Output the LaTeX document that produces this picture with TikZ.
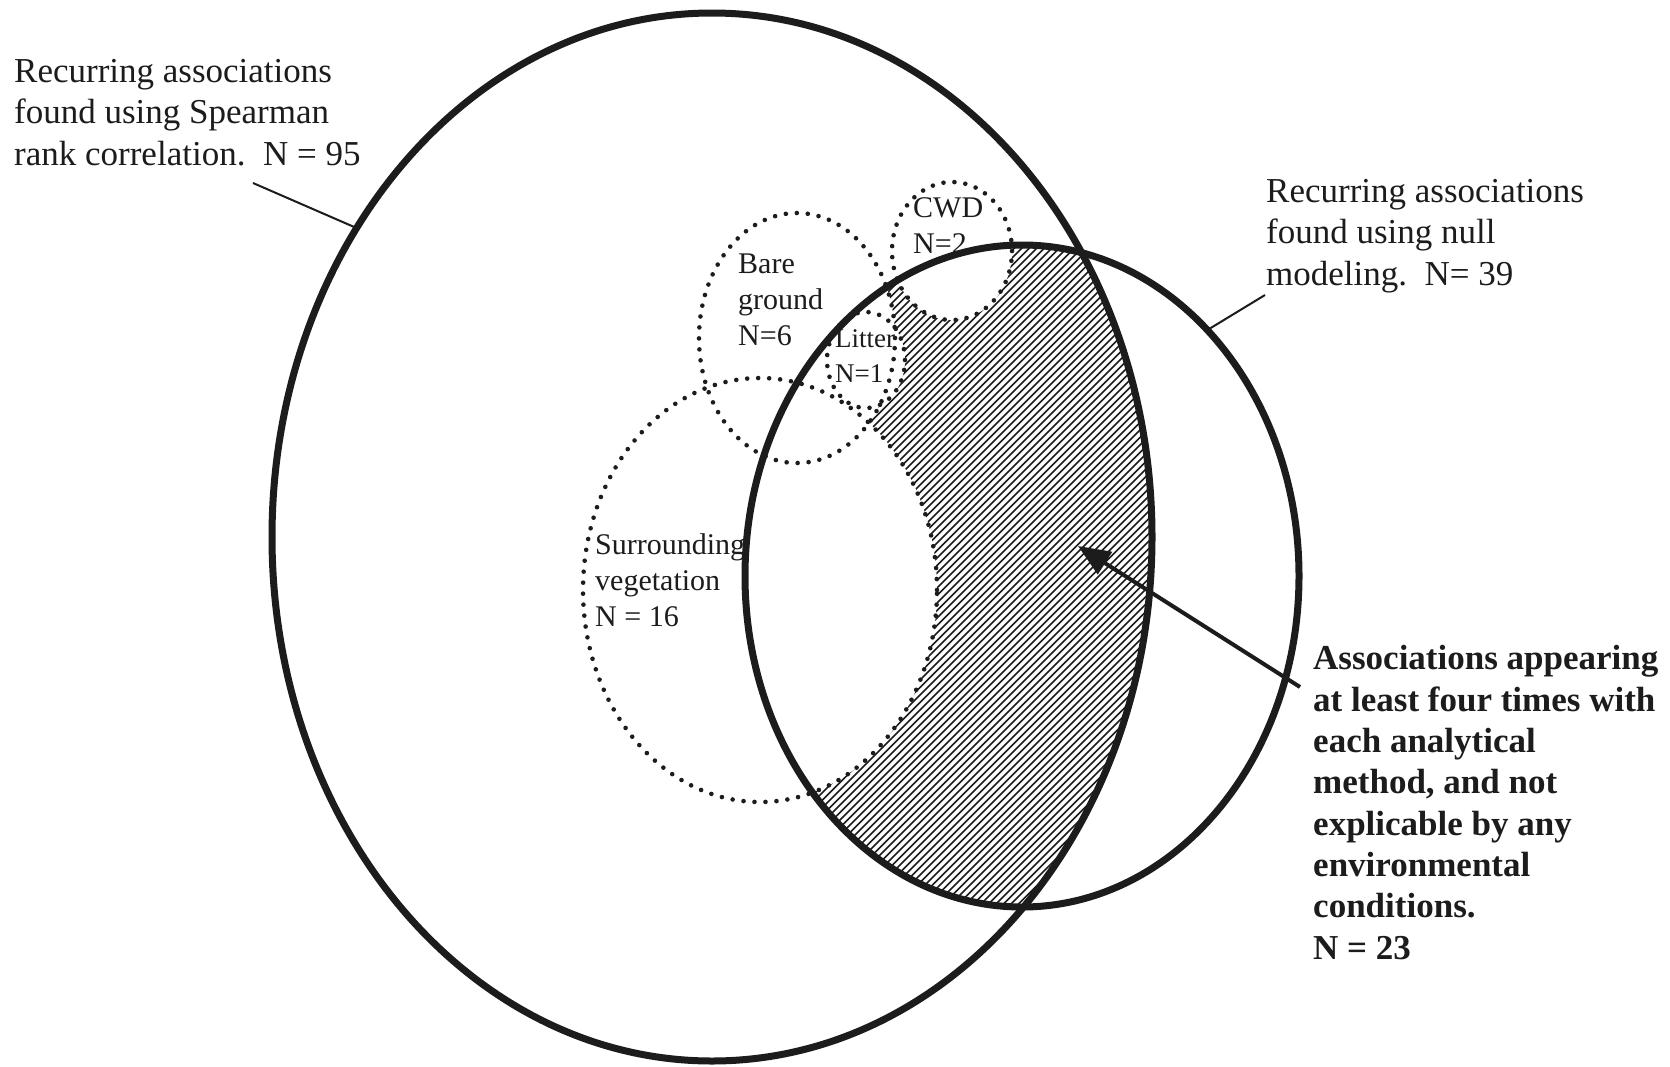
\documentclass[tikz,border=0pt]{standalone}
\usepackage{fontspec}
\setmainfont{Liberation Serif}
\usetikzlibrary{shapes.geometric,arrows.meta}
\definecolor{ink}{gray}{0.11}
\begin{document}
\begin{tikzpicture}[x=1pt,y=-1pt,
  biglbl/.style={font=\fontsize{35}{41.5}\selectfont, align=left, anchor=base west, inner sep=0pt, text=ink},
  boldlbl/.style={font=\fontsize{35}{41.3}\selectfont\bfseries, align=left, anchor=base west, inner sep=0pt, text=ink},
  smalllbl/.style={font=\fontsize{30}{36}\selectfont, align=left, anchor=base west, inner sep=0pt, text=ink},
  setring/.style={ellipse, draw=ink, line width=7pt, inner sep=0pt, outer sep=0pt},
  dotring/.style={draw=ink, line width=4.6pt, dash pattern=on 0pt off 11pt, line cap=round},
  leader/.style={draw=ink, line width=2pt}]
\useasboundingbox[fill=white] (0,0) rectangle (1670,1066);

% hatched region: both sets, outside the dotted sets
\begin{scope}
  \clip (712,537) ellipse [x radius=440pt, y radius=524pt];
  \clip (1022,576) ellipse [x radius=277pt, y radius=331pt];
  \foreach \x in {40,47.5,...,1170} \draw[ink, line width=1.6pt] (\x,930) -- ++(720,-720);
  \fill[white] (760,590) ellipse [x radius=177pt, y radius=212pt];
  \fill[white] (797,338) ellipse [x radius=98pt, y radius=125pt];
  \fill[white] (866,360) ellipse [x radius=39pt, y radius=48pt];
  \fill[white] (952,251) ellipse [x radius=60pt, y radius=69pt];
\end{scope}

% dotted sets
\draw[dotring] (760,590) ellipse [x radius=177pt, y radius=212pt];
\draw[dotring] (797,338) ellipse [x radius=98pt, y radius=125pt];
\draw[dotring] (866,360) ellipse [x radius=39pt, y radius=48pt];
\draw[dotring] (952,251) ellipse [x radius=60pt, y radius=69pt];

% labels (anchored at the baseline of their last line)
\node[biglbl] (spearlbl) at (14,165) {Recurring associations\\found using Spearman\\rank correlation.\ \ N = 95};
\node[biglbl] (nulllbl) at (1266,285) {Recurring associations\\found using null\\modeling.\ \ N= 39};
\node[boldlbl] (bothlbl) at (1313,959) {Associations appearing\\at least four times with\\each analytical\\method, and not\\explicable by any\\environmental\\conditions.\\N = 23};
\node[smalllbl] (barelbl) at (738,345) {Bare\\ground\\N=6};
\node[smalllbl] (cwdlbl) at (913,253) {CWD\\N=2};
\node[smalllbl, font=\fontsize{27}{35}\selectfont] (litterlbl) at (835,382) {Litter\\N=1};
\node[smalllbl] (veglbl) at (595,626) {Surrounding\\vegetation\\N = 16};

% solid sets
\node[setring, minimum width=880pt, minimum height=1048pt] (spear) at (712,537) {};
\node[setring, minimum width=554pt, minimum height=662pt] (null) at (1022,576) {};

% leaders and arrow
\coordinate (spearleadstart) at (253,183);
\coordinate (nullleadstart) at (1265,295);
\draw[leader] (spearleadstart) -- (spear.139.6);
\draw[leader] (nullleadstart) -- (null.53.4);
\coordinate (arrstart) at (1300,687);
\coordinate (arrtip) at (1078,546);
\draw[draw=ink, line width=4pt, -{Triangle[length=32pt,width=26pt]}] (arrstart) -- (arrtip);
\end{tikzpicture}
\end{document}
